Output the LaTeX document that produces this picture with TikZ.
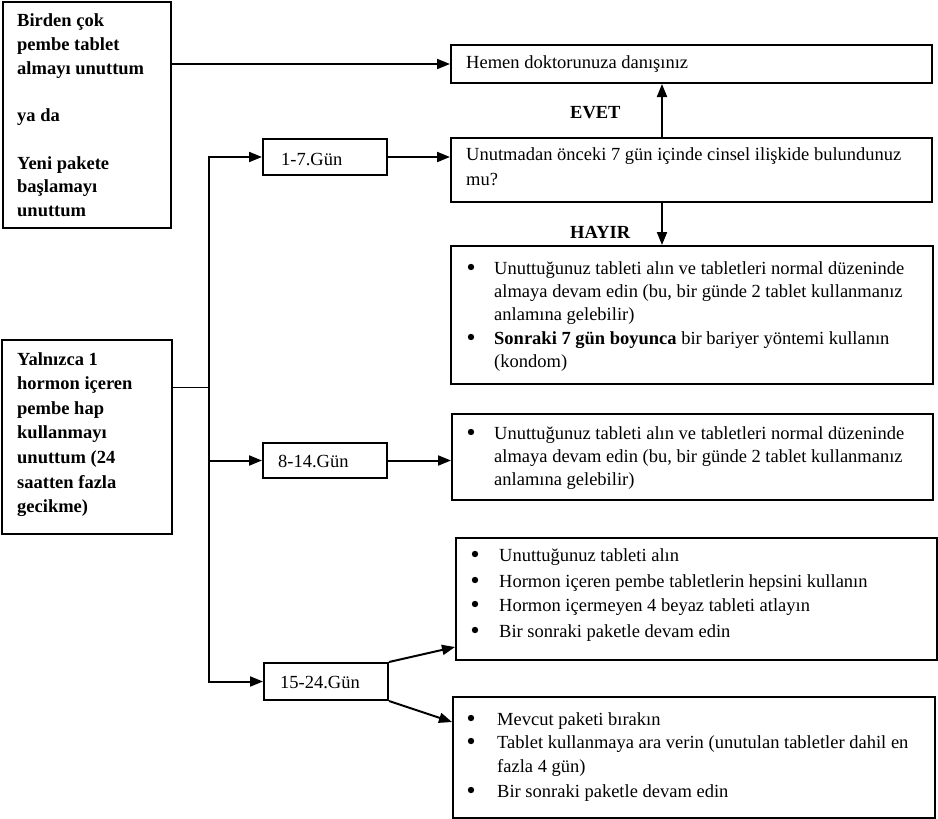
\documentclass[tikz,border=0pt]{standalone}
\usepackage{fontspec}
\setmainfont{Liberation Serif}
\usetikzlibrary{arrows.meta}
\begin{document}
\begin{tikzpicture}[x=1pt,y=-1pt,
  box/.style={draw, line width=2pt, inner sep=0pt, anchor=north west},
  txt/.style={inner sep=0pt, anchor=base west, align=left},
  arr/.style={line width=2pt, -{Triangle[length=13pt,width=10pt]}},
  tip/.tip={Triangle[length=13pt,width=10pt]}]
\useasboundingbox (0,0) rectangle (938,819);
\newcommand{\fs}[1]{\fontsize{18.5}{#1}\selectfont}
\newcommand{\bul}[2]{\fill (#1,#2) circle (3.2pt);}
% boxes
\node[box, minimum width=168pt, minimum height=226pt] (A) at (2,1) {};
\node[box, minimum width=170pt, minimum height=194pt] (B) at (1,339) {};
\node[box, minimum width=481pt, minimum height=38pt] (H) at (450,44) {};
\node[box, minimum width=481pt, minimum height=64pt] (Q) at (450,137) {};
\node[box, minimum width=482pt, minimum height=138pt] (R1) at (450,245) {};
\node[box, minimum width=481pt, minimum height=86pt] (R2) at (451,413) {};
\node[box, minimum width=481pt, minimum height=122pt] (R3) at (455,537) {};
\node[box, minimum width=482pt, minimum height=121pt] (R4) at (452,696) {};
\node[box, minimum width=124pt, minimum height=36pt] (D1) at (262,138) {};
\node[box, minimum width=124pt, minimum height=35pt] (D2) at (262,442) {};
\node[box, minimum width=124pt, minimum height=37pt] (D3) at (263,662) {};
% texts
\node[txt] (tA) at (17,27) {\fs{23.7}\bfseries\begin{tabular}[t]{@{}l@{}}Birden çok\\pembe tablet\\almayı unuttum\\[0pt] \\ya da\\ \\Yeni pakete\\başlamayı\\unuttum\end{tabular}};
\node[txt] (tB) at (17,365) {\fs{24.6}\bfseries\begin{tabular}[t]{@{}l@{}}Yalnızca 1\\hormon içeren\\pembe hap\\kullanmayı\\unuttum (24\\saatten fazla\\gecikme)\end{tabular}};
\node[txt] (tH) at (466,68) {\fs{23}Hemen doktorunuza danışınız};
\node[txt] (tQ) at (466,160) {\fs{25}\begin{tabular}[t]{@{}l@{}}Unutmadan önceki 7 gün içinde cinsel ilişkide bulundunuz\\mu?\end{tabular}};
\node[txt] (evet) at (570,118) {\fs{23}\bfseries EVET};
\node[txt] (hayir) at (570,238) {\fs{23}\bfseries HAYIR};
\node[txt] (tD1) at (281,165) {\fs{23}1-7.Gün};
\node[txt] (tD2) at (278,467) {\fs{23}8-14.Gün};
\node[txt] (tD3) at (280,688) {\fs{23}15-24.Gün};
% box 1
\bul{471}{267}\bul{471}{337}
\node[txt] (t11) at (494,274) {\fs{23.3}\begin{tabular}[t]{@{}l@{}}Unuttuğunuz tableti alın ve tabletleri normal düzeninde\\almaya devam edin (bu, bir günde 2 tablet kullanmanız\\anlamına gelebilir)\end{tabular}};
\node[txt] (t12) at (494,344) {\fs{23.3}\begin{tabular}[t]{@{}l@{}}\textbf{Sonraki 7 gün boyunca} bir bariyer yöntemi kullanın\\(kondom)\end{tabular}};
% box 2
\bul{471}{432}
\node[txt] (t21) at (494,439) {\fs{23.3}\begin{tabular}[t]{@{}l@{}}Unuttuğunuz tableti alın ve tabletleri normal düzeninde\\almaya devam edin (bu, bir günde 2 tablet kullanmanız\\anlamına gelebilir)\end{tabular}};
% box 3
\bul{475}{554}\bul{475}{580}\bul{475}{604}\bul{475}{630}
\node[txt] (t31) at (499,561) {\fs{23}Unuttuğunuz tableti alın};
\node[txt] (t32) at (499,587) {\fs{23}Hormon içeren pembe tabletlerin hepsini kullanın};
\node[txt] (t33) at (499,611) {\fs{23}Hormon içermeyen 4 beyaz tableti atlayın};
\node[txt] (t34) at (499,637) {\fs{23}Bir sonraki paketle devam edin};
% box 4
\bul{471}{718}\bul{471}{741}\bul{471}{790}
\node[txt] (t41) at (497,725) {\fs{23}Mevcut paketi bırakın};
\node[txt] (t42) at (497,748) {\fs{24}\begin{tabular}[t]{@{}l@{}}Tablet kullanmaya ara verin (unutulan tabletler dahil en\\fazla 4 gün)\end{tabular}};
\node[txt] (t44) at (497,797) {\fs{23}Bir sonraki paketle devam edin};
% connectors
\coordinate (j) at (209,387);
\draw[arr] (A.east |- H.west) -- (H.west);
\draw[arr] ([xshift=-29.5pt]Q.north) -- ([xshift=-29.5pt]Q.north |- H.south);
\draw[arr] ([xshift=-29.5pt]Q.south) -- ([xshift=-29.5pt]Q.south |- R1.north);
\draw[arr] (D1.east) -- (D1.east -| Q.west);
\draw[arr] (D2.east) -- (D2.east -| R2.west);
\draw[line width=1pt] (B.east |- j) -- (j);
\draw[line width=2pt, tip-tip] (D1.west) -- (D1.west -| j) -- (D3.west -| j) -- (D3.west);
\draw[arr] (D2.west -| j) -- (D2.west);
\draw[arr] (D3.north east) -- ([yshift=14pt]R3.south west);
\draw[arr] (D3.south east) -- ([yshift=-26pt]R4.north west);
\end{tikzpicture}
\end{document}
